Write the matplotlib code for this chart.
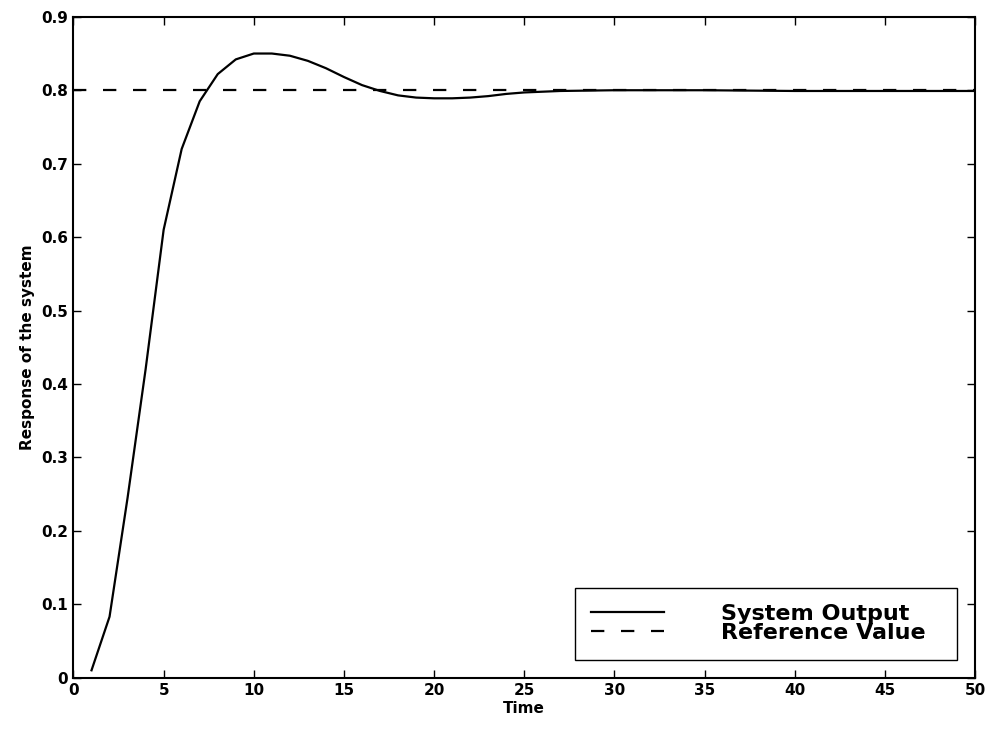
import matplotlib
matplotlib.use("Agg")
import matplotlib.pyplot as plt

# values
time = [1, 2, 3, 4, 5, 6, 7, 8, 9, 10, 11, 12, 13, 14, 15, 16, 17, 18, 19, 20,
        21, 22, 23, 24, 25, 27, 30, 35, 40, 45, 50]
output = [0.01, 0.083, 0.245, 0.42, 0.61, 0.72, 0.785, 0.822, 0.842, 0.850,
          0.850, 0.847, 0.840, 0.830, 0.818, 0.807, 0.799, 0.793, 0.790, 0.789,
          0.789, 0.790, 0.792, 0.795, 0.797, 0.799, 0.800, 0.800, 0.799, 0.799, 0.799]
ref_time = [0, 50]
ref_value = [0.8, 0.8]

x_ticks = [0, 5, 10, 15, 20, 25, 30, 35, 40, 45, 50]
y_ticks = [0, 0.1, 0.2, 0.3, 0.4, 0.5, 0.6, 0.7, 0.8, 0.9]
y_tick_labels = ['0', '0.1', '0.2', '0.3', '0.4', '0.5', '0.6', '0.7', '0.8', '0.9']

plt.rcParams['font.family'] = ['DejaVu Sans']
plt.rcParams['font.weight'] = 'bold'

fig = plt.figure(figsize=(9.93, 7.31), dpi=100)
ax = fig.add_axes([0.074, 0.073, 0.908, 0.904])

ax.plot(time, output, color='black', lw=1.6, label='System Output')
ax.plot(ref_time, ref_value, color='black', lw=1.6, linestyle=(0, (6, 7.5)),
        label='Reference Value')

ax.set_xlim(0, 50)
ax.set_ylim(0, 0.9)
ax.set_xticks(x_ticks)
ax.set_yticks(y_ticks)
ax.set_yticklabels(y_tick_labels)
ax.tick_params(direction='in', length=6, width=1, top=True, right=True,
               labelsize=11, pad=4)
for lbl in ax.get_xticklabels() + ax.get_yticklabels():
    lbl.set_fontweight('bold')
for sp in ax.spines.values():
    sp.set_linewidth(1.5)

ax.set_xlabel('Time', fontsize=11, fontweight='bold', labelpad=2)
ax.set_ylabel('Response of the system', fontsize=11, fontweight='bold', labelpad=4)

leg = ax.legend(loc='lower left', bbox_to_anchor=(0.556, 0.027, 0.424, 0.106),
                mode='expand', borderaxespad=0, fancybox=False, edgecolor='black',
                framealpha=1, handlelength=3.25, handletextpad=2.6, labelspacing=-0.05,
                borderpad=0.75, prop={'size': 16, 'weight': 'bold'})
leg.get_frame().set_linewidth(1.0)

plt.savefig("out.png", dpi=100)
plt.close()
